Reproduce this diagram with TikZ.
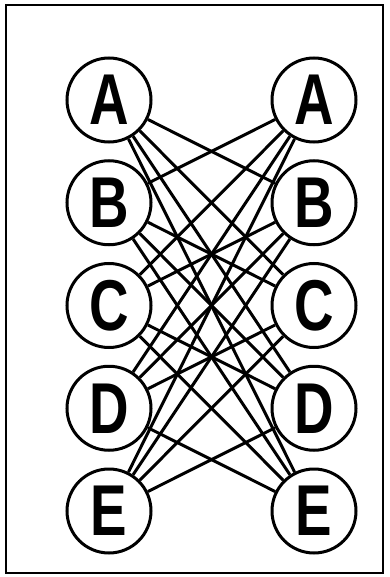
\documentclass[tikz,border=0pt]{standalone}
\usepackage{fontspec}
\setmainfont{Liberation Sans}

\tikzset{
  vertex/.style={draw, circle, line width=3pt, minimum size=84pt, inner sep=0pt,
    font=\fontsize{72}{72}\selectfont\bfseries},
  link/.style={line width=3pt},
}

\begin{document}
\begin{tikzpicture}[x=1pt, y=-1pt]
\useasboundingbox (0,0) rectangle (389,577);
\def\lx{109}
\def\rx{314}

% frame
\draw[line width=2.2pt] (6,5) rectangle (383,573);

% the two columns
\foreach \n [count=\i from 0] in {A,B,C,D,E} {
  \node[vertex] (l\n) at (\lx, {100+102.75*\i}) {\scalebox{0.76}[1]{\n}};
  \node[vertex] (r\n) at (\rx, {100+102.75*\i}) {\scalebox{0.76}[1]{\n}};
}

% every left letter to every other right letter
\foreach \s in {A,B,C,D,E} {
  \foreach \t in {A,B,C,D,E} {
    \ifx\s\t\else \draw[link] (l\s) -- (r\t); \fi
  }
}
\end{tikzpicture}
\end{document}
